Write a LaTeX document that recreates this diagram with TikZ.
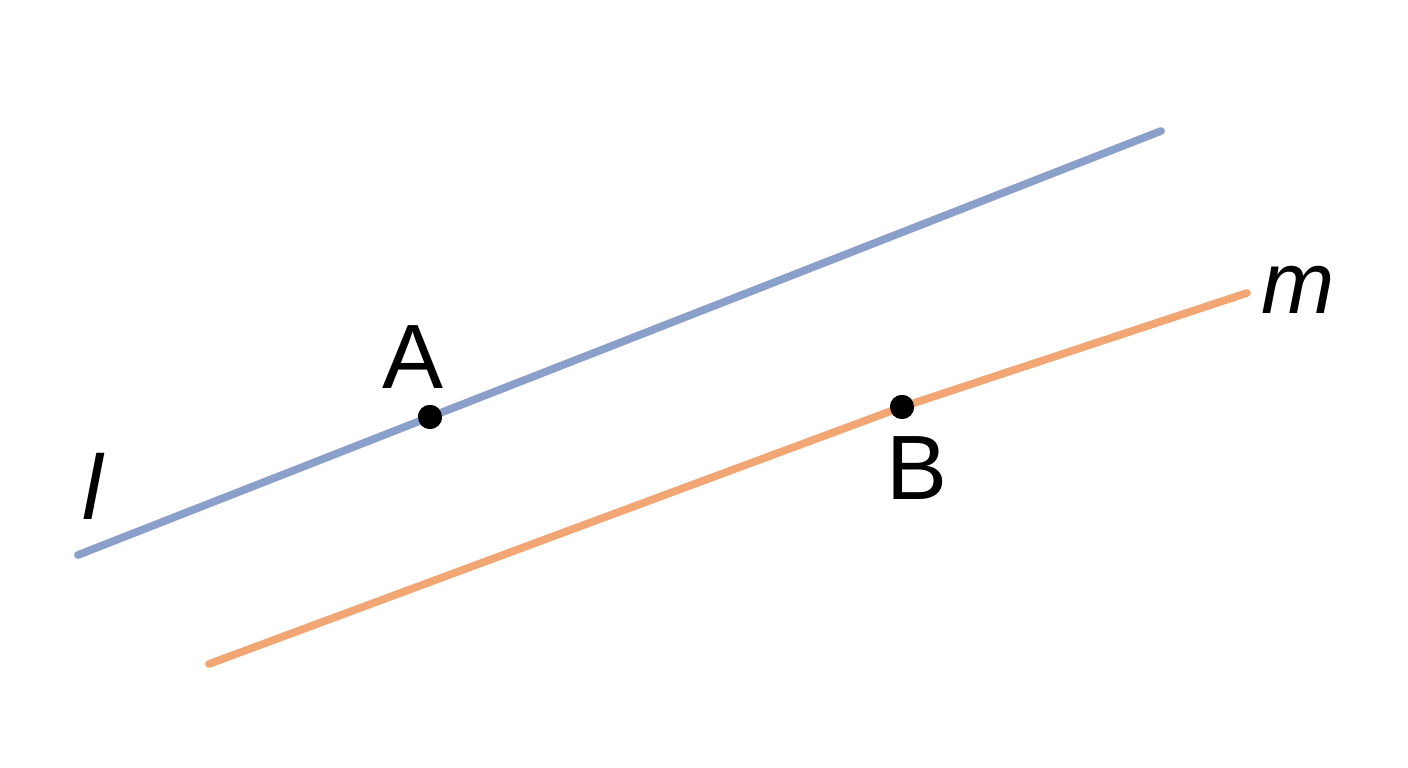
\documentclass[tikz,border=0pt]{standalone}
\usepackage{fontspec}
\setmainfont{Liberation Sans}
\usepackage{tikz}
\usetikzlibrary{positioning}
\definecolor{lineblue}{RGB}{138,159,202}
\definecolor{lineorange}{RGB}{242,166,115}

\begin{document}
\begin{tikzpicture}[x=0.01cm, y=-0.01cm,
        dotnode/.style={circle, fill=black, inner sep=0pt, minimum size=0.24cm},
        labelnode/.style={inner sep=0pt, font=\fontsize{26}{30}\selectfont},
        linepath/.style={line width=2.2pt, line cap=round}]
        \useasboundingbox (0,0) rectangle (1408,768);

        \coordinate (l1) at (78,555);
        \coordinate (l2) at (1161,131);
        \coordinate (m1) at (209,664);
        \coordinate (m2) at (1247,293);
        \node[dotnode] (A) at (430,417) {};
        \node[dotnode] (B) at (902,407) {};

        \draw[linepath, lineblue] (l1) -- (A.center) -- (l2);
        \draw[linepath, lineorange] (m1) -- (B.center) -- (m2);
        \node[dotnode] at (A) {};
        \node[dotnode] at (B) {};

        \node[labelnode] (labA) at (413,357) {A};
        \node[labelnode] (labB) at (917,468) {B};
        \node[labelnode] (labl) at (93,486) {\itshape l};
        \node[labelnode, font=\fontsize{25}{30}\selectfont] (labm) at (1298,290) {\itshape m};

        \end{tikzpicture}
\end{document}
